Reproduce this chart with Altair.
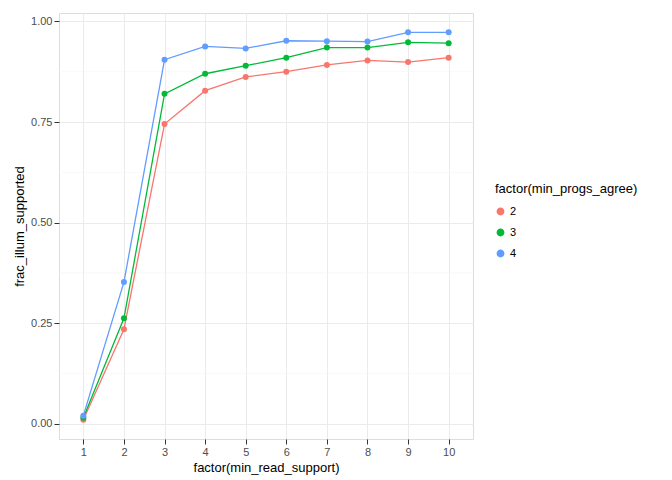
import altair as alt
import pandas as pd

support = list(range(1, 11))
agree2 = [0.010, 0.235, 0.745, 0.828, 0.862, 0.875, 0.892, 0.903, 0.899, 0.910]
agree3 = [0.015, 0.262, 0.820, 0.870, 0.890, 0.910, 0.935, 0.935, 0.948, 0.946]
agree4 = [0.020, 0.352, 0.905, 0.938, 0.933, 0.952, 0.951, 0.950, 0.973, 0.973]
minor_y = [0.125, 0.375, 0.625, 0.875]

rows = []
for g, vals in (("2", agree2), ("3", agree3), ("4", agree4)):
    for s, v in zip(support, vals):
        rows.append({"min_read_support": str(s), "frac": v, "agree": g})
df = pd.DataFrame(rows)

xs = alt.X("min_read_support:N", sort=[str(s) for s in support],
           scale=alt.Scale(type="point", padding=0.6),
           axis=alt.Axis(title="factor(min_read_support)", labelAngle=0,
                         grid=True, gridColor="#EBEBEB", tickColor="#333333",
                         domain=False, labelColor="#4D4D4D", labelFontSize=11,
                         titleFontSize=13, titleFontWeight="normal", titleColor="black"))
ys = alt.Y("frac:Q", scale=alt.Scale(domain=[-0.038, 1.021], nice=False, zero=False),
           axis=alt.Axis(title="frac_illum_supported", values=[0, 0.25, 0.5, 0.75, 1.0],
                         format=".2f", gridColor="#EBEBEB", tickColor="#333333",
                         domain=False, labelColor="#4D4D4D", labelFontSize=11,
                         titleFontSize=13, titleFontWeight="normal", titleColor="black"))
color = alt.Color("agree:N", scale=alt.Scale(domain=["2", "3", "4"],
                  range=["#F8766D", "#00BA38", "#619CFF"]),
                  legend=alt.Legend(title="factor(min_progs_agree)", titleFontSize=13,
                                    titleFontWeight="normal", labelFontSize=11,
                                    symbolType="circle", symbolSize=40,
                                    orient="none", legendX=436, legendY=170,
                                    rowPadding=8, titlePadding=10))

minor = alt.Chart(pd.DataFrame({"y": minor_y})).mark_rule(
    color="#F4F4F4", strokeWidth=0.6).encode(y=alt.Y("y:Q"))
base = alt.Chart(df)
lines = base.mark_line(strokeWidth=1.3).encode(x=xs, y=ys, color=color)
pts = base.mark_circle(size=36, opacity=1).encode(x=xs, y=ys, color=color)

chart = alt.layer(minor, lines, pts).properties(width=414, height=426).configure_view(
    stroke="#333333", strokeWidth=1).configure(font="Liberation Sans")
chart.save("out.html", embed_options={"renderer": "svg", "actions": False})
